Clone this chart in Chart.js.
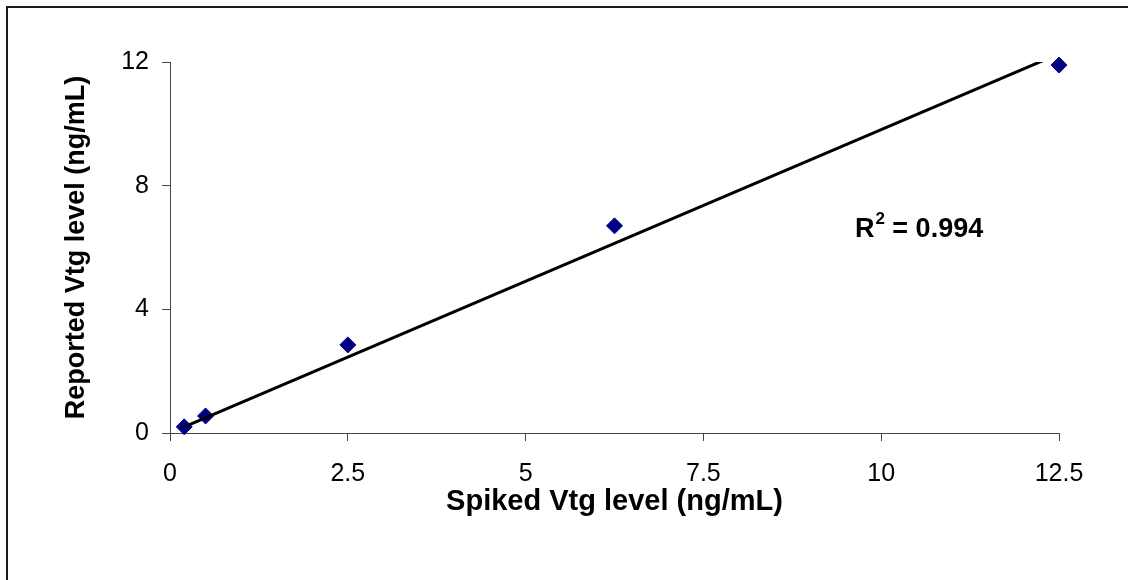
<!DOCTYPE html>
<html>
<head>
<meta charset="utf-8">
<script src="https://cdn.jsdelivr.net/npm/chart.js@4/dist/chart.umd.min.js"></script>
<style>
  html, body { margin: 0; padding: 0; background: #fff; }
  #wrap { position: relative; width: 1128px; height: 580px; overflow: hidden; background: #fff; }
  #frame { position: absolute; left: 6px; top: 6px; width: 2000px; height: 2000px;
           border-left: 2px solid #1a1a1a; border-top: 2px solid #1a1a1a; pointer-events: none; }
  canvas { position: absolute; left: 0; top: 0; }
</style>
</head>
<body>
<div id="wrap">
  <canvas id="chartCanvas" width="1128" height="580"></canvas>
  <div id="frame"></div>
</div>
<script>
// spiked vs reported Vtg levels (ng/mL)
const spiked = [0.2, 0.5, 2.5, 6.25, 12.5];
const reported = [0.2, 0.55, 2.85, 6.7, 11.9];

const xTicks = [0, 2.5, 5, 7.5, 10, 12.5];
const yTicks = [0, 4, 8, 12];

const rSquaredLabel = '0.994';

// trendline forced through the origin (least squares, intercept = 0)
let sxy = 0, sxx = 0;
for (let i = 0; i < spiked.length; i++) {
    sxy += spiked[i] * reported[i];
    sxx += spiked[i] * spiked[i];
}
const slope = sxy / sxx;
const trendPoints = [spiked[0], spiked[spiked.length - 1]].map(x => ({ x: x, y: slope * x }));

const font = "'Liberation Sans', Arial, sans-serif";
Chart.defaults.font.family = font;

// R² text, placed in data coordinates
const rSquaredPlugin = {
    id: 'rSquared',
    afterDraw(chart) {
        const ctx = chart.ctx;
        const x = chart.scales.x.getPixelForValue(9.63);
        const y = chart.scales.y.getPixelForValue(6.35);
        ctx.save();
        ctx.fillStyle = '#000';
        ctx.textBaseline = 'alphabetic';
        ctx.textAlign = 'left';
        ctx.font = 'bold 27px ' + font;
        ctx.fillText('R', x, y);
        let w = ctx.measureText('R').width;
        ctx.font = 'bold 17px ' + font;
        ctx.fillText('2', x + w + 1, y - 13);
        w += ctx.measureText('2').width + 1;
        ctx.font = 'bold 27px ' + font;
        ctx.fillText(' = ' + rSquaredLabel, x + w, y);
        ctx.restore();
    }
};

const axisColor = '#444';

new Chart(document.getElementById('chartCanvas'), {
    type: 'scatter',
    data: {
        datasets: [
            {
                type: 'line',
                data: trendPoints,
                borderColor: '#000',
                borderWidth: 3,
                pointRadius: 0,
                fill: false,
                clip: 0,
                order: 0
            },
            {
                data: spiked.map((x, i) => ({ x: x, y: reported[i] })),
                pointStyle: 'rectRot',
                pointRadius: 8,
                backgroundColor: '#000080',
                borderColor: '#000080',
                borderWidth: 1,
                clip: false,
                order: 1
            }
        ]
    },
    options: {
        responsive: false,
        animation: false,
        devicePixelRatio: 1,
        layout: { padding: { top: 62, right: 69, left: 0, bottom: 0 } },
        plugins: {
            legend: { display: false },
            tooltip: { enabled: false }
        },
        scales: {
            x: {
                type: 'linear',
                min: 0,
                max: 12.5,
                afterBuildTicks: scale => { scale.ticks = xTicks.map(v => ({ value: v })); },
                afterFit: scale => { scale.height = 147; },
                grid: { drawOnChartArea: false, drawTicks: true, tickLength: 8, color: axisColor },
                border: { color: axisColor, width: 1 },
                ticks: { color: '#000', font: { size: 25 }, padding: 18, maxRotation: 0 },
                title: {
                    display: true,
                    text: 'Spiked Vtg level (ng/mL)',
                    color: '#000',
                    font: { size: 29, weight: 'bold' },
                    padding: { top: 0, bottom: 61 }
                }
            },
            y: {
                type: 'linear',
                min: 0,
                max: 12,
                afterBuildTicks: scale => { scale.ticks = yTicks.map(v => ({ value: v })); },
                afterFit: scale => { scale.width = 170; },
                grid: { drawOnChartArea: false, drawTicks: true, tickLength: 8, color: axisColor },
                border: { color: axisColor, width: 1 },
                ticks: { color: '#000', font: { size: 25 }, padding: 13 },
                title: {
                    display: true,
                    text: 'Reported Vtg level (ng/mL)',
                    color: '#000',
                    font: { size: 27, weight: 'bold' },
                    padding: { top: 60, bottom: 0 }
                }
            }
        }
    },
    plugins: [rSquaredPlugin]
});
</script>
</body>
</html>
